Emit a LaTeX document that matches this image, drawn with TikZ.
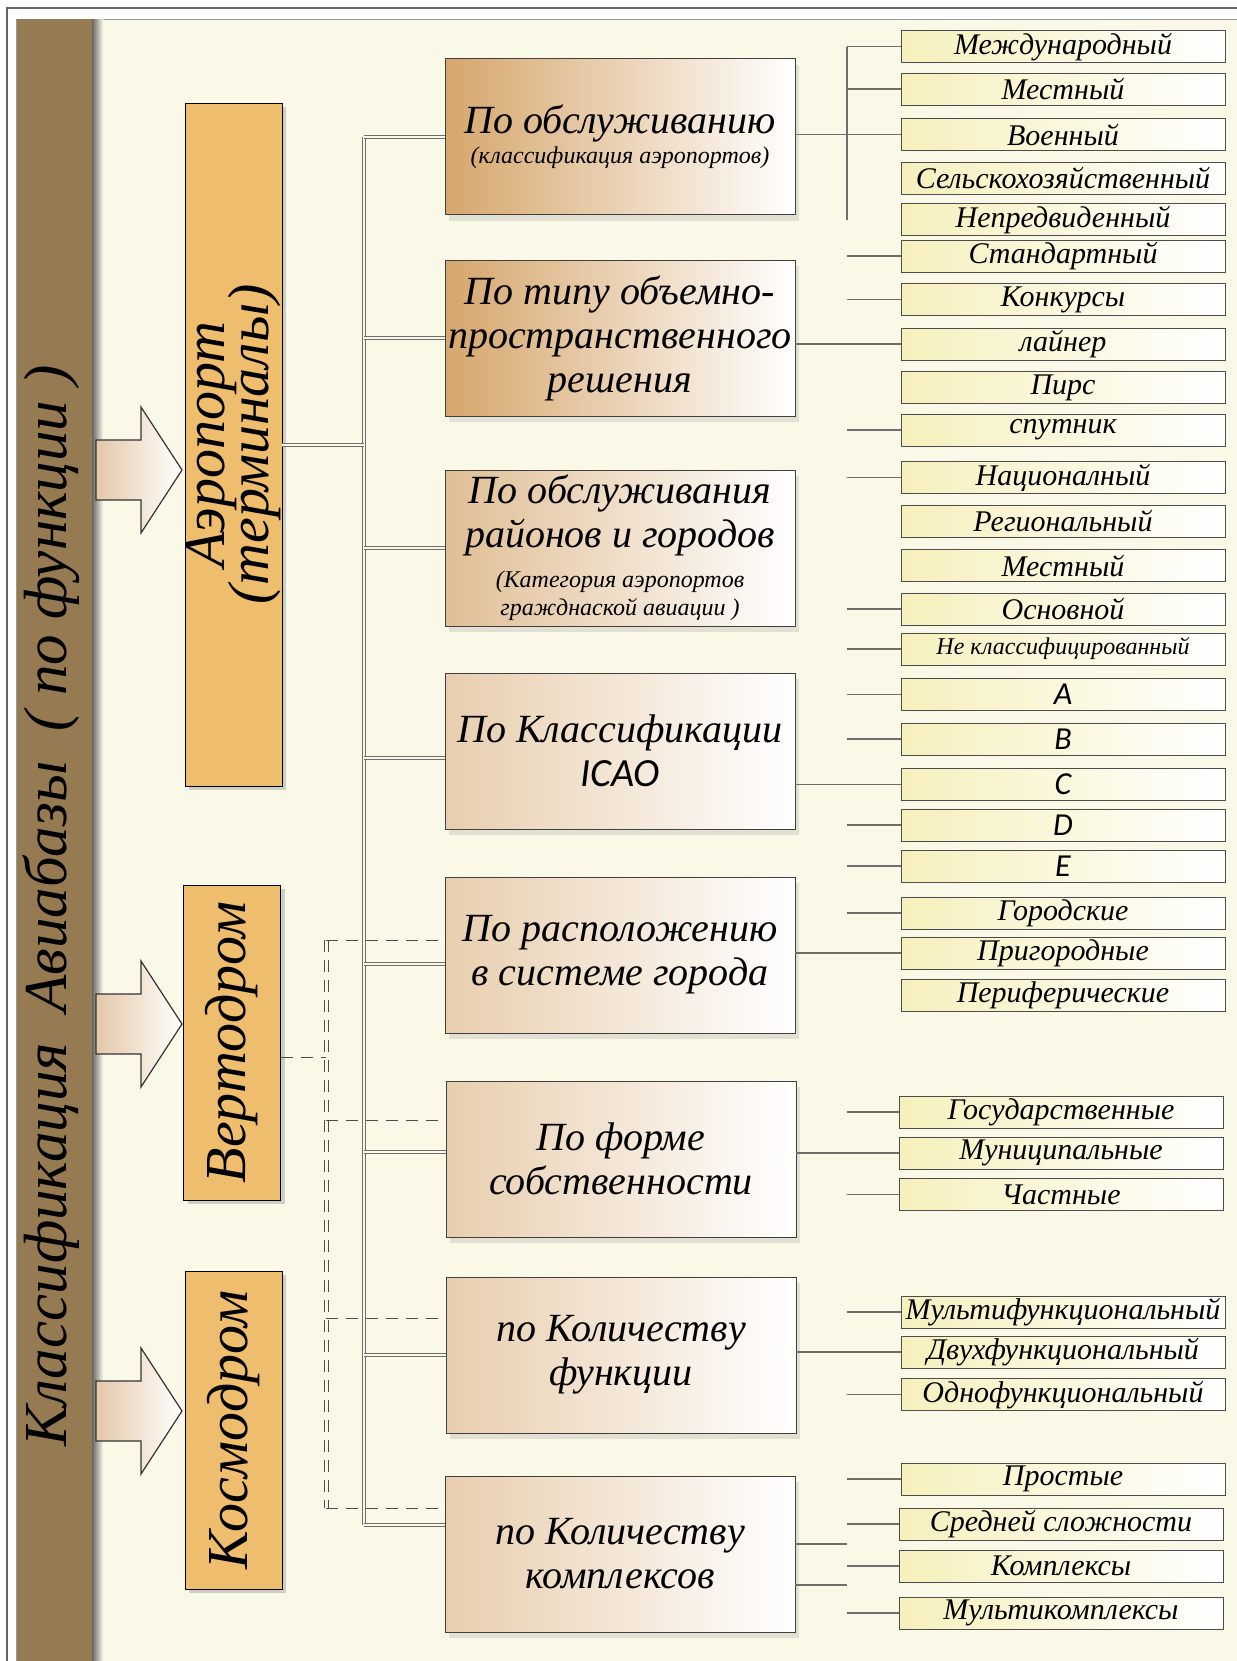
\documentclass[tikz,border=0pt]{standalone}
\usepackage{fontspec}
\setmainfont{Liberation Serif}
\newfontfamily\icaofont{Carlito}
\usetikzlibrary{shadows,calc}
\definecolor{paper}{RGB}{250,248,231}
\definecolor{barbrown}{RGB}{149,122,82}
\definecolor{kindorange}{RGB}{238,189,109}
\definecolor{catdark}{RGB}{214,166,108}
\definecolor{catmid}{RGB}{224,190,148}
\definecolor{catlight}{RGB}{232,206,174}
\definecolor{leafyellow}{RGB}{246,240,188}
\definecolor{arrowtan}{RGB}{228,200,168}
\definecolor{wire}{RGB}{110,110,110}
\newcommand\tightlines{\setlength{\lineskiplimit}{-30pt}}
\begin{document}
\begin{tikzpicture}[x=0.5pt, y=-0.5pt,
	kind/.style={draw=black, fill=kindorange, rotate=90, inner sep=0pt,
		minimum height=48.5pt, align=center,
		drop shadow={opacity=0.35, shadow xshift=2pt, shadow yshift=-2pt},
		font=\itshape\fontsize{29}{22}\selectfont\tightlines},
	cat/.style={draw=black!75, right color=white, minimum width=175pt,
		minimum height=78pt, inner sep=0pt, align=center,
		drop shadow={opacity=0.2, shadow xshift=2pt, shadow yshift=-3pt},
		font=\itshape\fontsize{20}{22}\selectfont},
	leaf/.style={draw=black!70, left color=leafyellow, right color=white,
		minimum width=162pt, minimum height=16pt, inner sep=0pt,
		font=\itshape\fontsize{15}{16}\selectfont},
	link/.style={draw=wire, line width=0.6pt},
	bus/.style={draw=wire, double=paper, double distance=1pt, line width=0.5pt},
	helilink/.style={draw=black!70, line width=0.5pt, dash pattern=on 6pt off 4pt},
	bigarrow/.style={draw=black!80, left color=arrowtan, right color=white, line width=0.6pt}]

	\useasboundingbox (0,0) rectangle (1237,1661);
	\fill[white] (0,0) rectangle (1237,1661);
	\draw[black!60, line width=0.6pt] (1237,8) -- (7,8) -- (7,1661);
	\filldraw[fill=paper, draw=black!40] (16,19) rectangle (1245,1670);

	\shade[left color=black!60, right color=paper] (92,19) rectangle (103,1661);
	\fill[barbrown] (17,19) rectangle (92,1661);
	\node[rotate=90, font=\itshape\fontsize{30.5}{36}\selectfont] (title) at (51,906)
		{Классификация~~Авиабазы~~( по функции )};

	\draw[bigarrow] (96,440) -- (141,440) -- (141,407) -- (182,470) -- (141,533) -- (141,500) -- (96,500) -- cycle;
	\draw[bigarrow] (96,994) -- (141,994) -- (141,961) -- (182,1024) -- (141,1087) -- (141,1054) -- (96,1054) -- cycle;
	\draw[bigarrow] (96,1381) -- (141,1381) -- (141,1348) -- (182,1411) -- (141,1474) -- (141,1441) -- (96,1441) -- cycle;

	\node[kind, minimum width=341.5pt] (aero) at (233.5,444.5) {Аэропорт\\(терминалы)};
	\node[kind, minimum width=157.5pt] (vert) at (232,1042.5) {Вертодром};
	\node[kind, minimum width=159pt] (kosm) at (233.5,1430) {Космодром};

	\node[cat, left color=catdark] (c1) at (620,136.5)
		{По обслуживанию\\[-7pt]{\fontsize{12}{14}\selectfont (классификация аэропортов)}};
	\node[cat, left color=catdark] (c2) at (620,338)
		{По типу объемно-\\пространственного\\решения};
	\node[cat, left color=catmid] (c3) at (620,548)
		{По обслуживания\\районов и городов\\[-2pt]{\fontsize{12}{14}\selectfont (Категория аэропортов}\\[-8pt]{\fontsize{12}{14}\selectfont гражднаской авиации )}};
	\node[cat, left color=catlight] (c4) at (620,751) {По Классификации\\{\icaofont\itshape ICAO}};
	\node[cat, left color=catlight] (c5) at (620,955) {По расположению\\в системе города};
	\node[cat, left color=catlight] (c6) at (621,1159) {По форме\\собственности};
	\node[cat, left color=catlight] (c7) at (621,1355) {по Количеству\\функции};
	\node[cat, left color=catlight] (c8) at (620,1554) {по Количеству\\комплексов};

	\node[leaf] (l1) at (1063,46.6) {Международный};
	\node[leaf] (l2) at (1063,89) {Местный};
	\node[leaf] (l3) at (1063,134.5) {Военный};
	\node[leaf] (l4) at (1063,178) {Сельскохозяйственный};
	\node[leaf] (l5) at (1063,219.7) {Непредвиденный};
	\node[leaf] (l6) at (1063,256) {Стандартный};
	\node[leaf] (l7) at (1063,299.7) {Конкурсы};
	\node[leaf] (l8) at (1063,344) {лайнер};
	\node[leaf] (l9) at (1063,387.6) {Пирс};
	\node[leaf] (l10) at (1063,430) {спутник};
	\node[leaf] (l11) at (1063,477.6) {Националный};
	\node[leaf] (l12) at (1063,521) {Региональный};
	\node[leaf] (l13) at (1063,565.5) {Местный};
	\node[leaf] (l14) at (1063,609) {Основной};
	\node[leaf, font=\itshape\fontsize{12}{14}\selectfont] (l15) at (1063,649) {Не классифицированный};
	\node[leaf, font=\icaofont\itshape\fontsize{16}{16}\selectfont] (l16) at (1063,694.7) {A};
	\node[leaf, font=\icaofont\itshape\fontsize{16}{16}\selectfont] (l17) at (1063,739) {B};
	\node[leaf, font=\icaofont\itshape\fontsize{16}{16}\selectfont] (l18) at (1063,784.7) {C};
	\node[leaf, font=\icaofont\itshape\fontsize{16}{16}\selectfont] (l19) at (1063,825) {D};
	\node[leaf, font=\icaofont\itshape\fontsize{16}{16}\selectfont] (l20) at (1063,866) {E};
	\node[leaf] (l21) at (1063,913) {Городские};
	\node[leaf] (l22) at (1063,953) {Пригородные};
	\node[leaf] (l23) at (1063,995.5) {Периферические};
	\node[leaf] (l24) at (1061,1112) {Государственные};
	\node[leaf] (l25) at (1061,1153) {Муниципальные};
	\node[leaf] (l26) at (1061,1194.6) {Частные};
	\node[leaf] (l27) at (1063,1312) {Мультифункциональный};
	\node[leaf] (l28) at (1063,1352) {Двухфункциональный};
	\node[leaf] (l29) at (1063,1394.7) {Однофункциональный};
	\node[leaf] (l30) at (1063,1479) {Простые};
	\node[leaf] (l31) at (1061,1524) {Средней сложности};
	\node[leaf] (l32) at (1061,1566) {Комплексы};
	\node[leaf] (l33) at (1061,1613) {Мультикомплексы};

	\coordinate (trunk) at (364,0);
	\coordinate (heli) at (326,0);
	\coordinate (tick) at (847,0);

	\draw[bus] (trunk |- c1.west) -- ($(trunk |- c8.west)+(0,-29)$);
	\draw[bus] (aero.south) -- (aero.south -| trunk);
	\draw[bus] (trunk |- c1.west) -- (c1.west);
	\draw[bus] (trunk |- c2.west) -- (c2.west);
	\draw[bus] (trunk |- c3.west) -- (c3.west);
	\draw[bus] ($(trunk |- c4.west)+(0,7)$) -- ($(c4.west)+(0,7)$);
	\draw[bus] ($(trunk |- c5.west)+(0,9)$) -- ($(c5.west)+(0,9)$);
	\draw[bus] ($(trunk |- c6.west)+(0,-7)$) -- ($(c6.west)+(0,-7)$);
	\draw[bus] (trunk |- c7.west) -- (c7.west);
	\draw[bus] ($(trunk |- c8.west)+(0,-29)$) -- ($(c8.west)+(0,-29)$);

	\draw[helilink] ($(vert.south)+(0,15)$) -- ($(heli |- vert.south)+(0,15)$);
	\draw[helilink, double=paper, double distance=1.5pt] ($(heli |- c5.west)+(0,-15)$) -- ($(heli |- c8.west)+(0,-46)$);
	\draw[helilink] ($(heli |- c5.west)+(0,-15)$) -- ($(c5.west)+(0,-15)$);
	\draw[helilink] ($(heli |- c6.west)+(0,-39)$) -- ($(c6.west)+(0,-39)$);
	\draw[helilink] ($(heli |- c7.west)+(0,-37)$) -- ($(c7.west)+(0,-37)$);
	\draw[helilink] ($(heli |- c8.west)+(0,-46)$) -- ($(c8.west)+(0,-46)$);

	\draw[link] (tick |- l1.west) -- (tick |- l5.west);
	\draw[link] (tick |- l1.west) -- (l1.west) (tick |- l2.west) -- (l2.west);
	\draw[link] (c1.east |- l3.west) -- (l3.west);
	\draw[link] (tick |- l6.west) -- (l6.west) (tick |- l7.west) -- (l7.west) (tick |- l10.west) -- (l10.west);
	\draw[link] (c2.east |- l8.west) -- (l8.west);
	\draw[link] (tick |- l11.west) -- (l11.west) (tick |- l14.west) -- (l14.west) (tick |- l15.west) -- (l15.west);
	\draw[link] (tick |- l16.west) -- (l16.west) (tick |- l17.west) -- (l17.west) (tick |- l19.west) -- (l19.west) (tick |- l20.west) -- (l20.west);
	\draw[link] (c4.east |- l18.west) -- (l18.west);
	\draw[link] (tick |- l21.west) -- (l21.west);
	\draw[link] (c5.east |- l22.west) -- (l22.west);
	\draw[link] (tick |- l24.west) -- (l24.west) (tick |- l26.west) -- (l26.west);
	\draw[link] (c6.east |- l25.west) -- (l25.west);
	\draw[link] (tick |- l27.west) -- (l27.west) (tick |- l29.west) -- (l29.west);
	\draw[link] (c7.east |- l28.west) -- (l28.west);
	\draw[link] (tick |- l30.west) -- (l30.west) (tick |- l31.west) -- (l31.west) (tick |- l32.west) -- (l32.west) (tick |- l33.west) -- (l33.west);
	\draw[link] ($(c8.east)+(0,-10)$) -- ($(tick |- c8.east)+(0,-10)$);
	\draw[link] ($(c8.east)+(0,31)$) -- ($(tick |- c8.east)+(0,31)$);
\end{tikzpicture}
\end{document}
